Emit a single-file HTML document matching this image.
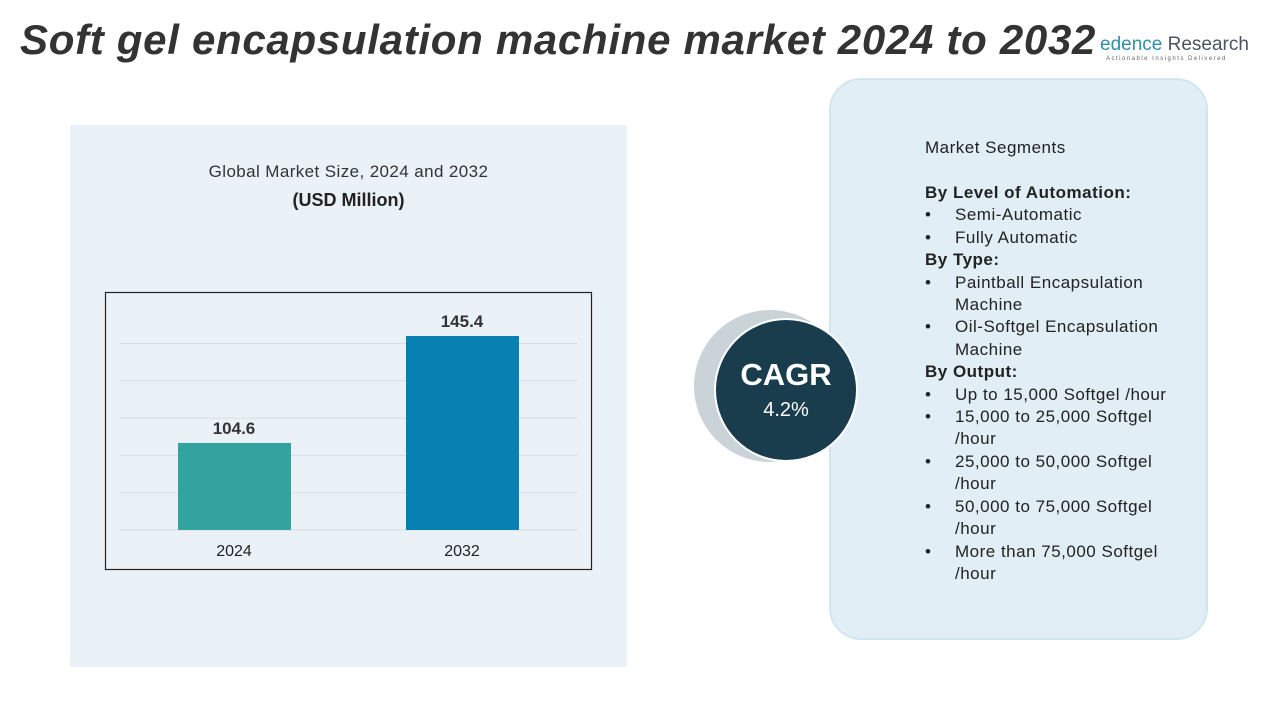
<!DOCTYPE html>
<html><head><meta charset="utf-8"><style>
body{margin:0;width:1280px;height:720px;background:#fff;position:relative;overflow:hidden;font-family:"Liberation Sans",sans-serif;}
.abs{position:absolute;}
#title{left:20px;top:16px;font-size:42px;font-weight:bold;font-style:italic;color:#333;white-space:nowrap;letter-spacing:0.7px;}
#leftpanel{left:70px;top:125px;width:557px;height:542px;background:#eaf2f8;}
#rightpanel{left:829px;top:78px;width:379px;height:562px;background:#e1eef5;border-radius:32px;border:2px solid #d3e6f0;box-sizing:border-box;}
.seg{left:925px;font-size:17px;color:#222;line-height:22.4px;letter-spacing:0.5px;}
.b{display:inline-block;width:30px;}
</style></head><body>
<div class="abs" id="leftpanel"></div>
<div class="abs" id="rightpanel"></div>
<div class="abs" style="left:1100px;top:34px;font-size:19px;color:#4a5560;white-space:nowrap;"><span style="color:#2f8fa8">edence</span> Research<div style="font-size:6px;letter-spacing:1.5px;color:#666;margin-left:6px">Actionable Insights Delivered</div></div>
<div class="abs" id="title">Soft gel encapsulation machine market 2024 to 2032</div>
<div class="abs" style="left:70px;width:557px;top:162px;text-align:center;font-size:17px;color:#333;letter-spacing:0.4px;">Global Market Size, 2024 and 2032</div>
<div class="abs" style="left:70px;width:557px;top:190px;text-align:center;font-size:18px;font-weight:bold;color:#222;">(USD Million)</div>
<svg class="abs" style="left:0;top:0" width="1280" height="720" id="chart">
<rect x="105.5" y="292.5" width="486" height="277" fill="none" stroke="#222" stroke-width="1.2"/>
<g id="grid"></g><g id="bars"></g>
<circle cx="770" cy="386" r="76" fill="#c9d3d8"/>
<circle cx="786" cy="390" r="72" fill="#fff"/>
<circle cx="786" cy="390" r="70" fill="#1a3d4e"/>
<text x="786" y="385" text-anchor="middle" font-size="31" font-weight="bold" fill="#fff">CAGR</text>
<text x="786" y="416" text-anchor="middle" font-size="20" fill="#fff">4.2%</text>
</svg>
<div class="abs seg" style="top:137px">Market Segments</div>
<div class="abs seg" style="top:182px">
<b>By Level of Automation:</b><br><span class="b">•</span>Semi-Automatic<br><span class="b">•</span>Fully Automatic<br><b>By Type:</b><br><span class="b">•</span>Paintball Encapsulation<br><span class="b"></span>Machine<br><span class="b">•</span>Oil-Softgel Encapsulation<br><span class="b"></span>Machine<br><b>By Output:</b><br><span class="b">•</span>Up to 15,000 Softgel /hour<br><span class="b">•</span>15,000 to 25,000 Softgel<br><span class="b"></span>/hour<br><span class="b">•</span>25,000 to 50,000 Softgel<br><span class="b"></span>/hour<br><span class="b">•</span>50,000 to 75,000 Softgel<br><span class="b"></span>/hour<br><span class="b">•</span>More than 75,000 Softgel<br><span class="b"></span>/hour
</div>
<script>
const categories=["2024","2032"];
const values=[104.6,145.4];
const colors=["#33a3a0","#0880b2"];
const yMin=71.4,yMax=145.4;
const baseY=530,topY=336,plotL=120,plotR=577;
function y(v){return baseY-(v-yMin)/(yMax-yMin)*(baseY-topY);}
function xc(i){return [234,462][i];}
const NS="http://www.w3.org/2000/svg";
const grid=document.getElementById('grid'),bars=document.getElementById('bars');
for(let k=0;k<6;k++){const gy=baseY-k*37.3;const l=document.createElementNS(NS,'line');
l.setAttribute('x1',plotL);l.setAttribute('x2',plotR);l.setAttribute('y1',gy);l.setAttribute('y2',gy);l.setAttribute('stroke','#d6dde2');


grid.appendChild(l);}
values.forEach((v,i)=>{const r=document.createElementNS(NS,'rect');
r.setAttribute('x',xc(i)-56);r.setAttribute('width',113);r.setAttribute('y',y(v));r.setAttribute('height',baseY-y(v));r.setAttribute('fill',colors[i]);


bars.appendChild(r);
const t=document.createElementNS(NS,'text');t.setAttribute('x',xc(i));t.setAttribute('y',y(v)-9);t.setAttribute('text-anchor','middle');t.setAttribute('font-size','17');t.setAttribute('font-weight','bold');t.setAttribute('fill','#333');t.textContent=v.toFixed(1);


bars.appendChild(t);
const c=document.createElementNS(NS,'text');c.setAttribute('x',xc(i));c.setAttribute('y',556);c.setAttribute('text-anchor','middle');c.setAttribute('font-size','16');c.setAttribute('fill','#222');c.textContent=categories[i];


bars.appendChild(c);});
</script>
</body></html>
